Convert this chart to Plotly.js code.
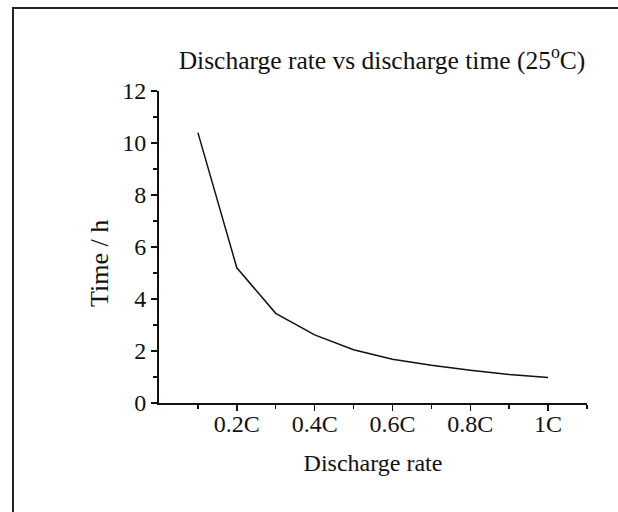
<!DOCTYPE html>
<html>
<head>
<meta charset="utf-8">
<script src="https://cdn.plot.ly/plotly-3.0.1.min.js"></script>
<style>
  html, body { margin: 0; padding: 0; background: #fff; }
  #wrap { position: relative; width: 618px; height: 512px; overflow: hidden; }
  #chart { position: absolute; left: 0; top: 0; width: 618px; height: 512px; }
  #frame { position: absolute; left: 12px; top: 7px; width: 620px; height: 520px;
           border-left: 2px solid #222; border-top: 2px solid #222; pointer-events: none; }
</style>
</head>
<body>
<div id="wrap">
  <div id="chart"></div>
  <div id="frame"></div>
</div>
<script>
// Data
const rates = [0.1, 0.2, 0.3, 0.4, 0.5, 0.6, 0.7, 0.8, 0.9, 1.0];
const hours = [10.4, 5.2, 3.45, 2.62, 2.05, 1.68, 1.45, 1.26, 1.1, 0.98];
const xTickVals = [0.2, 0.4, 0.6, 0.8, 1.0];
const xTickText = ['0.2C', '0.4C', '0.6C', '0.8C', '1C'];
const xOriginTick = [0];
const xMinorVals = [0.1, 0.3, 0.5, 0.7, 0.9, 1.1];
const yTickVals = [0, 2, 4, 6, 8, 10, 12];
const yMinorVals = [1, 3, 5, 7, 9, 11];

const fam = '"Liberation Serif", "Times New Roman", serif';
const ink = '#111';
const f = (s) => ({family: fam, color: ink, size: s});

const trace = {
  x: rates, y: hours, type: 'scatter', mode: 'lines',
  line: {color: ink, width: 1.5},
  hoverinfo: 'skip', showlegend: false
};

const layout = {
  width: 618, height: 512,
  margin: {l: 159, r: 31, t: 91, b: 109, pad: 0},
  paper_bgcolor: '#fff', plot_bgcolor: '#fff',
  font: f(24),
  title: {
    text: 'Discharge rate vs discharge time (25<sup>o</sup>C)',
    font: f(25.5),
    xref: 'container', x: 382 / 618, xanchor: 'center',
    yref: 'container', y: 1 - 60 / 512, yanchor: 'middle'
  },
  xaxis: {
    range: [0, 1.1], tickmode: 'array', tickvals: xTickVals, ticktext: xTickText,
    showgrid: false, zeroline: false, showline: true, linecolor: ink, linewidth: 2,
    ticks: 'outside', ticklen: 6, tickwidth: 1.5, tickcolor: ink,
    tickfont: f(24), ticklabelstandoff: -8,
    minor: {tickmode: 'array', tickvals: xMinorVals, ticks: 'outside', ticklen: 4, tickwidth: 1.5, tickcolor: ink, showgrid: false},
    title: {text: 'Discharge rate', font: f(24), standoff: 18}
  },
  xaxis2: {
    overlaying: 'x', anchor: 'y', side: 'bottom', range: [0, 1.1],
    tickmode: 'array', tickvals: xOriginTick, showticklabels: false,
    showgrid: false, zeroline: false, showline: false,
    ticks: 'outside', ticklen: 6, tickwidth: 1.5, tickcolor: ink
  },
  yaxis: {
    range: [0, 12], tickmode: 'array', tickvals: yTickVals,
    showgrid: false, zeroline: false, showline: true, linecolor: ink, linewidth: 2,
    ticks: 'outside', ticklen: 6, tickwidth: 1.5, tickcolor: ink,
    tickfont: f(24),
    minor: {tickmode: 'array', tickvals: yMinorVals, ticks: 'outside', ticklen: 4, tickwidth: 1.5, tickcolor: ink, showgrid: false}
  },
  annotations: [{
    text: 'Time / h', textangle: -90, showarrow: false,
    xref: 'paper', yref: 'paper',
    x: (99 - 159) / (618 - 159 - 31), y: (403 - 264) / (403 - 91),
    xanchor: 'center', yanchor: 'middle',
    font: f(26)
  }]
};

Plotly.newPlot('chart', [trace], layout, {staticPlot: true, displayModeBar: false});
</script>
</body>
</html>
